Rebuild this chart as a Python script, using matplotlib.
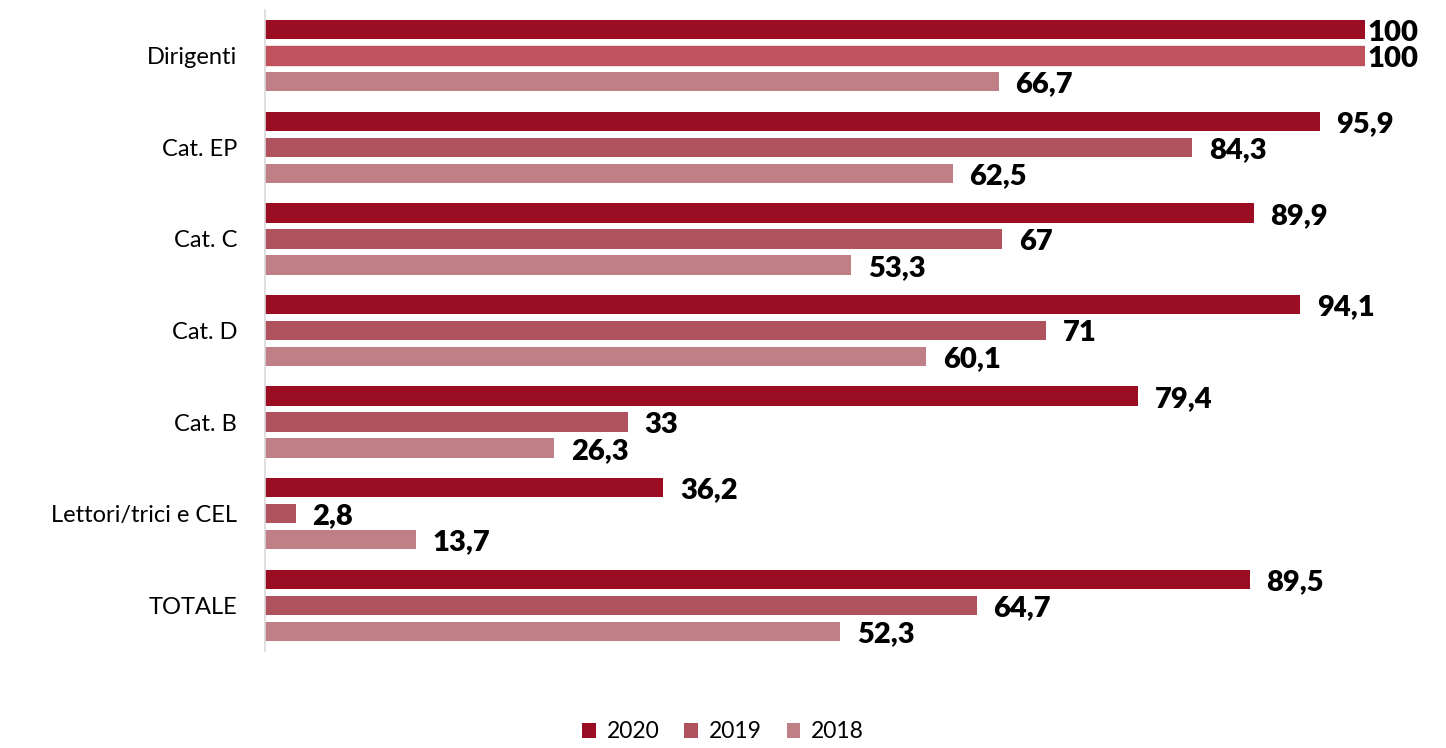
import matplotlib
matplotlib.use("Agg")
import matplotlib.pyplot as plt
import numpy as np

categories = ["Dirigenti", "Cat. EP", "Cat. C", "Cat. D", "Cat. B",
              "Lettori/trici e CEL", "TOTALE"]
years = ["2020", "2019", "2018"]
v2020 = [100, 95.9, 89.9, 94.1, 79.4, 36.2, 89.5]
v2019 = [100, 84.3, 67, 71, 33, 2.8, 64.7]
v2018 = [66.7, 62.5, 53.3, 60.1, 26.3, 13.7, 52.3]
colors = ["#9B0D23", "#B0525E", "#C07F87"]

plt.rcParams['font.family'] = ['Lato', 'DejaVu Sans']

fig = plt.figure(figsize=(14.46, 7.48), dpi=100)
ax = fig.add_axes([265 / 1446, 1 - 651 / 748, 1100 / 1446, 641 / 748])

y = np.arange(len(categories))
step = 0.284
height = 0.21
for i, (vals, col, lab) in enumerate(zip([v2020, v2019, v2018], colors, years)):
    pos = y + (i - 1) * step
    ax.barh(pos, vals, height=height, color=col, label=lab)
    for p, v in zip(pos, vals):
        txt = f"{v:g}".replace(".", ",")
        off = 2 if v >= 100 else 12
        ax.annotate(txt, (v, p), xytext=(off, -2), textcoords="offset points",
                    ha="left", va="center", fontsize=21, fontweight="heavy",
                    annotation_clip=False)

ax.set_xlim(0, 100)
ax.set_ylim(len(categories) - 0.5, -0.5)
ax.set_yticks(y)
ax.set_yticklabels(categories, fontsize=17)
ax.tick_params(axis="y", length=0, pad=20)
ax.set_xticks([])
for s in ["top", "right", "bottom"]:
    ax.spines[s].set_visible(False)
ax.spines["left"].set_color("#D9D9D9")
ax.spines["left"].set_linewidth(1.2)

fig.legend(loc="lower center", bbox_to_anchor=(0.5, -0.02), ncol=3,
           frameon=False, fontsize=16.5, handlelength=0.6, handleheight=0.6,
           handletextpad=0.45, columnspacing=1.1)

# Dirigenti 2019 bar is a touch lighter in the original (after legend so the
# legend swatch keeps the series colour)
ax.patches[len(categories)].set_color("#C0525E")

fig.savefig("out.png", dpi=100)
